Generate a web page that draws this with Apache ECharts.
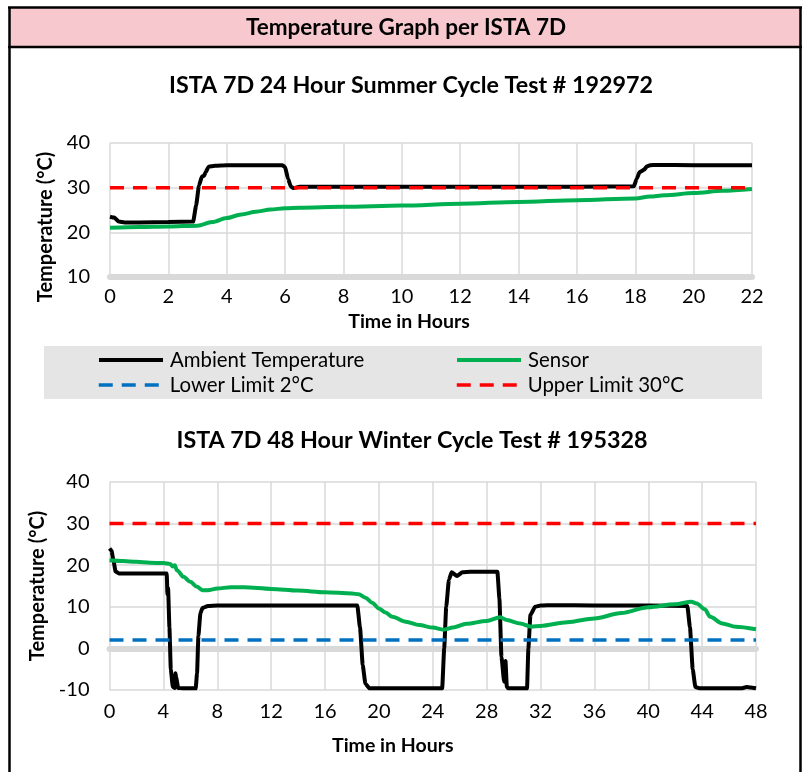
<!DOCTYPE html>
<html><head><meta charset="utf-8">
<script src="https://cdn.jsdelivr.net/npm/echarts@6/dist/echarts.min.js"></script>
<style>html,body{margin:0;padding:0;background:#fff}#c{width:807px;height:772px}</style>
</head><body><div id="c"></div>
<script>
// ---------- Header / titles ----------
const headerText = 'Temperature Graph per ISTA 7D';
const summerTitle = 'ISTA 7D 24 Hour Summer Cycle Test # 192972';
const winterTitle = 'ISTA 7D 48 Hour Winter Cycle Test # 195328';
const seriesNames = ['Ambient Temperature', 'Sensor', 'Lower Limit 2°C', 'Upper Limit 30°C'];
const xAxisTitle = 'Time in Hours';
const yAxisTitle = 'Temperature (°C)';

// ---------- 24 h summer cycle ----------
const summerAmbientHours = [0, 0.15, 0.3, 0.5, 1, 2, 2.85, 2.95, 3.05, 3.15, 3.22, 3.28, 3.38, 3.6, 4, 5, 5.9, 6.0, 6.1, 6.2, 6.3, 6.5, 8, 12, 16, 17.95, 18.05, 18.15, 18.3, 18.4, 18.5, 18.7, 20, 22];
const summerAmbientTemps = [23.5, 23.3, 22.4, 22.2, 22.2, 22.3, 22.4, 26, 30.5, 32.5, 32.6, 33.5, 34.7, 34.9, 35.0, 35.0, 35.0, 34.6, 32, 30.2, 29.9, 30.2, 30.2, 30.2, 30.2, 30.3, 32, 33.5, 34, 34.8, 35, 35.1, 35, 35];
const summerSensorHours = [0, 1, 2, 3, 3.5, 4, 4.5, 5, 5.5, 6, 6.5, 8, 10, 12, 14, 16, 18, 18.5, 19, 20, 21, 22];
const summerSensorTemps = [21.0, 21.2, 21.3, 21.5, 22.3, 23.2, 24.0, 24.6, 25.1, 25.4, 25.5, 25.7, 26.0, 26.4, 26.8, 27.2, 27.6, 28.0, 28.3, 28.8, 29.3, 29.7];
const summerLimitHours = [0, 22];

// ---------- 48 h winter cycle ----------
const winterAmbientHours = [0, 0.15, 0.3, 0.45, 0.7, 2, 4.25, 4.3, 4.35, 4.45, 4.55, 4.7, 4.85, 4.9, 4.95, 5.1, 5.5, 6.4, 6.5, 6.6, 6.75, 6.9, 7.3, 8, 12, 16, 18.4, 18.6, 18.8, 19.0, 19.3, 22, 24.7, 24.85, 25.0, 25.2, 25.4, 25.8, 26.2, 26.8, 28.8, 28.95, 29.1, 29.3, 29.4, 29.5, 29.6, 29.8, 31.0, 31.1, 31.25, 31.6, 32, 33, 36, 40, 42.9, 43.1, 43.3, 43.5, 43.8, 46, 46.9, 47.3, 47.6, 48];
const winterAmbientTemps = [24, 23.5, 21, 18.5, 18, 18, 18, 13, 14.5, 5, -5, -9.2, -9.5, -6, -7, -9.5, -9.6, -9.6, -6, 3, 8.5, 9.7, 10.2, 10.3, 10.3, 10.3, 10.3, 5, -4, -8.5, -9.6, -9.6, -9.6, 0, 10, 16.5, 18.3, 17.4, 18.3, 18.4, 18.4, 12, -2, -8, -3, -9.2, -9.6, -9.6, -9.6, 0, 8, 10.0, 10.3, 10.4, 10.3, 10.3, 10.2, 5, -5, -9.3, -9.6, -9.6, -9.6, -9.3, -9.4, -9.6];
const winterSensorHours = [0, 1, 2, 3, 4, 4.5, 4.7, 4.85, 5.0, 5.5, 6.0, 6.5, 6.9, 7.3, 8, 9, 10, 12, 14, 16, 18, 18.5, 19, 19.5, 20, 20.5, 21, 22, 23, 24, 24.8, 25.5, 26.5, 28, 29.0, 29.5, 30.5, 31.3, 32, 34, 36, 38, 40, 42, 43.2, 43.6, 44.2, 44.6, 45.5, 46.5, 48];
const winterSensorTemps = [21.2, 21.0, 20.8, 20.6, 20.5, 20.3, 19.7, 20.0, 18.8, 17.2, 16.0, 14.8, 14.0, 14.0, 14.4, 14.7, 14.7, 14.3, 13.9, 13.5, 13.2, 13.0, 12.2, 11.0, 9.6, 8.6, 7.6, 6.4, 5.6, 5.0, 4.5, 5.0, 5.9, 6.6, 7.5, 6.8, 6.0, 5.2, 5.4, 6.3, 7.2, 8.5, 9.9, 10.6, 11.2, 10.8, 9.4, 7.6, 6.0, 5.2, 4.6];
const winterLimitHours = [0, 48];

const lowerLimit = 2;
const upperLimit = 30;

// ---------- axes ----------
const summerX = {min: 0, max: 22, interval: 2};
const summerY = {min: 10, max: 40, interval: 10};
const winterX = {min: 0, max: 48, interval: 4};
const winterY = {min: -10, max: 40, interval: 10};

const FONT = 'Lato, "Open Sans", sans-serif';
const GRIDC = '#D9D9D9';
const zip = (xs, ys) => xs.map((x, i) => [x, ys[i]]);
const flat = (xs, v) => xs.map(x => [x, v]);

function xAxisCfg(grid, r, margin, nameGap, namePad) {
  return {
    gridIndex: grid, type: 'value', min: r.min, max: r.max, interval: r.interval,
    axisLine: {show: grid === 0, onZero: false, lineStyle: {color: GRIDC, width: 6}},
    axisTick: {show: false},
    axisLabel: {fontSize: 20, color: '#000', margin: margin, fontFamily: FONT},
    splitLine: {show: true, lineStyle: {color: GRIDC, width: 1.5}},
    name: xAxisTitle, nameLocation: 'middle', nameGap: nameGap,
    nameTextStyle: {fontSize: 19.5, fontWeight: 'bold', color: '#000', fontFamily: FONT, padding: namePad}
  };
}
function yAxisCfg(grid, r, nameGap, namePad) {
  return {
    gridIndex: grid, type: 'value', min: r.min, max: r.max, interval: r.interval,
    axisLine: {show: false}, axisTick: {show: false},
    axisLabel: {fontSize: 20, color: '#000', margin: 20, fontFamily: FONT},
    splitLine: {show: true, lineStyle: {color: GRIDC, width: 1.5}},
    name: yAxisTitle, nameLocation: 'middle', nameGap: nameGap,
    nameTextStyle: {fontSize: 20, fontWeight: 'bold', color: '#000', fontFamily: FONT, padding: namePad}
  };
}

function seriesFor(idx, amb, sen, limHours) {
  const base = {type: 'line', xAxisIndex: idx, yAxisIndex: idx, showSymbol: false, symbol: 'none', animation: false};
  return [
    Object.assign({}, base, {name: seriesNames[0], data: amb, smooth: 0.15, smoothMonotone: 'x', lineStyle: {color: '#000', width: 4}, itemStyle: {color: '#000'}}),
    Object.assign({}, base, {name: seriesNames[1], data: sen, smooth: 0.3, smoothMonotone: 'x', lineStyle: {color: '#00B050', width: 4}, itemStyle: {color: '#00B050'}}),
    Object.assign({}, base, {name: seriesNames[2], data: flat(limHours, lowerLimit), lineStyle: {color: '#0070C0', width: 3.5, type: [14, 9]}, itemStyle: {color: '#0070C0'}}),
    Object.assign({}, base, {name: seriesNames[3], data: flat(limHours, upperLimit), lineStyle: {color: '#FF0000', width: 3.5, type: [14, 9]}, itemStyle: {color: '#FF0000'}})
  ];
}

function legendAt(name, left, top, lw) {
  return {
    data: [name], left: left, top: top, padding: 0, itemWidth: 64, itemHeight: 14, itemGap: 0,
    selectedMode: false,
    itemStyle: {opacity: 0, borderWidth: 0},
    lineStyle: {width: lw},
    textStyle: {fontSize: 20.4, color: '#000', fontFamily: FONT, padding: [0, 0, 0, 2]}
  };
}

const chart = echarts.init(document.getElementById('c'));
chart.setOption({
  animation: false,
  backgroundColor: '#fff',
  grid: [
    {left: 110, right: 55, top: 143, bottom: 495},
    {left: 109.5, right: 51, top: 482, bottom: 82}
  ],
  xAxis: [
    xAxisCfg(0, summerX, 10, 35, [0, 44, 0, 0]),
    xAxisCfg(1, winterX, 12, 46, [0, 80, 0, 0]),
    {gridIndex: 1, type: 'value', min: winterX.min, max: winterX.max, position: 'bottom',
     axisLine: {show: true, onZero: true, lineStyle: {color: GRIDC, width: 6}},
     axisTick: {show: false}, axisLabel: {show: false}, splitLine: {show: false}}
  ],
  yAxis: [yAxisCfg(0, summerY, 52, [0, 34, 0, 0]), yAxisCfg(1, winterY, 49, 0)],
  legend: [
    legendAt(seriesNames[0], 97, 350, 4),
    legendAt(seriesNames[1], 455, 350, 4),
    legendAt(seriesNames[2], 97, 375, 3.5),
    legendAt(seriesNames[3], 455, 375, 3.5)
  ],
  graphic: [
    {type: 'rect', z: -10, silent: true, shape: {x: 9, y: 7, width: 792, height: 40}, style: {fill: '#F7C9CF'}},
    {type: 'line', z: 10, silent: true, shape: {x1: 8, y1: 7.5, x2: 802, y2: 7.5}, style: {stroke: '#000', lineWidth: 2.5}},
    {type: 'line', z: 10, silent: true, shape: {x1: 8, y1: 47, x2: 802, y2: 47}, style: {stroke: '#000', lineWidth: 2.5}},
    {type: 'line', z: 10, silent: true, shape: {x1: 9.5, y1: 7, x2: 9.5, y2: 772}, style: {stroke: '#000', lineWidth: 2.5}},
    {type: 'line', z: 10, silent: true, shape: {x1: 800.5, y1: 7, x2: 800.5, y2: 772}, style: {stroke: '#000', lineWidth: 2.5}},
    {type: 'rect', z: -10, silent: true, shape: {x: 44, y: 346, width: 718, height: 53}, style: {fill: '#E5E5E5'}},
    {type: 'text', silent: true, x: 406, y: 28, style: {text: headerText, align: 'center', verticalAlign: 'middle', font: 'bold 22.5px ' + FONT, fill: '#000'}},
    {type: 'text', silent: true, x: 411, y: 85, style: {text: summerTitle, align: 'center', verticalAlign: 'middle', font: 'bold 23.3px ' + FONT, fill: '#000'}},
    {type: 'text', silent: true, x: 412, y: 440, style: {text: winterTitle, align: 'center', verticalAlign: 'middle', font: 'bold 23.3px ' + FONT, fill: '#000'}}
  ],
  series: [].concat(
    seriesFor(0, zip(summerAmbientHours, summerAmbientTemps), zip(summerSensorHours, summerSensorTemps), summerLimitHours),
    seriesFor(1, zip(winterAmbientHours, winterAmbientTemps), zip(winterSensorHours, winterSensorTemps), winterLimitHours)
  )
});
</script></body></html>
